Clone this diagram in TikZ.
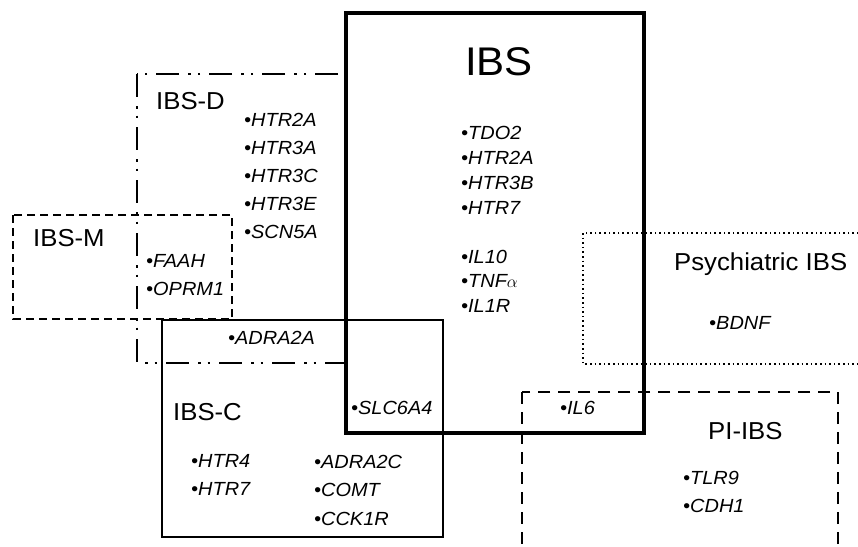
\documentclass[tikz,border=0pt]{standalone}
\usepackage{fontspec}
\setmainfont[FakeStretch=1.05]{Liberation Sans}
\tikzset{
  gene/.style={anchor=west, inner sep=0pt, font=\fontsize{19}{21}\selectfont\itshape},
  grouplabel/.style={anchor=west, inner sep=0pt, font=\fontsize{24.5}{27}\selectfont},
  ibsbox/.style={line width=3.8pt},
  dbox/.style={line width=2.6pt, dash pattern=on 23pt off 9pt on 2.5pt off 7pt on 2.5pt off 9pt},
  mbox/.style={line width=1.2pt, dash pattern=on 8pt off 5pt},
  cbox/.style={line width=1.1pt},
  psybox/.style={line width=1.6pt, dash pattern=on 1.6pt off 3pt},
  pibox/.style={line width=2.6pt, dash pattern=on 12pt off 8pt}
}
\begin{document}
\begin{tikzpicture}[x=1pt,y=-1pt]
\useasboundingbox (0,0) rectangle (858,546);
%%%GROUPS
\draw[mbox] (13,215) rectangle (232,319);
\draw[dbox] (137,74) rectangle (346,363);
\draw[cbox] (162,320) rectangle (443,537);
\draw[psybox] (583,233) rectangle (875,364);
\draw[pibox] (522,392) rectangle (838,570);
\draw[ibsbox] (346,13) rectangle (644,433);
%%%LABELS
\node[anchor=center, inner sep=0pt, font=\fontsize{40}{44}\selectfont] (ibs) at (499,62) {IBS};
\node[grouplabel] (ibsd) at (156,101) {IBS-D};
\node[grouplabel] (ibsm) at (33,238) {IBS-M};
\node[grouplabel] (ibsc) at (173,412) {IBS-C};
\node[grouplabel] (psy) at (674,264) {Psychiatric IBS};
\node[grouplabel] (pi) at (708,431) {PI-IBS};
%%%GENES
\foreach \g [count=\i] in {TDO2,HTR2A,HTR3B,HTR7}
  \node[gene] (ibs\i) at (461,108+25*\i) {\textbullet\g};
\foreach \g [count=\i] in {IL10,TNF$\alpha$,IL1R}
  \node[gene] (ibsx\i) at (461,232+24.5*\i) {\textbullet\g};
\foreach \g [count=\i] in {HTR2A,HTR3A,HTR3C,HTR3E,SCN5A}
  \node[gene] (d\i) at (244,92+28*\i) {\textbullet\g};
\foreach \g [count=\i] in {FAAH,OPRM1}
  \node[gene] (m\i) at (146,233+28*\i) {\textbullet\g};
\node[gene] (adra2a) at (228,338) {\textbullet ADRA2A};
\node[gene] (slc) at (351,408) {\textbullet SLC6A4};
\node[gene] (il6) at (560,408) {\textbullet IL6};
\foreach \g [count=\i] in {HTR4,HTR7}
  \node[gene] (c\i) at (191,433+28*\i) {\textbullet\g};
\foreach \g [count=\i] in {ADRA2C,COMT,CCK1R}
  \node[gene] (cx\i) at (314,433+28.5*\i) {\textbullet\g};
\node[gene] (bdnf) at (709,323) {\textbullet BDNF};
\foreach \g [count=\i] in {TLR9,CDH1}
  \node[gene] (p\i) at (683,450+28*\i) {\textbullet\g};
\end{tikzpicture}
\end{document}
